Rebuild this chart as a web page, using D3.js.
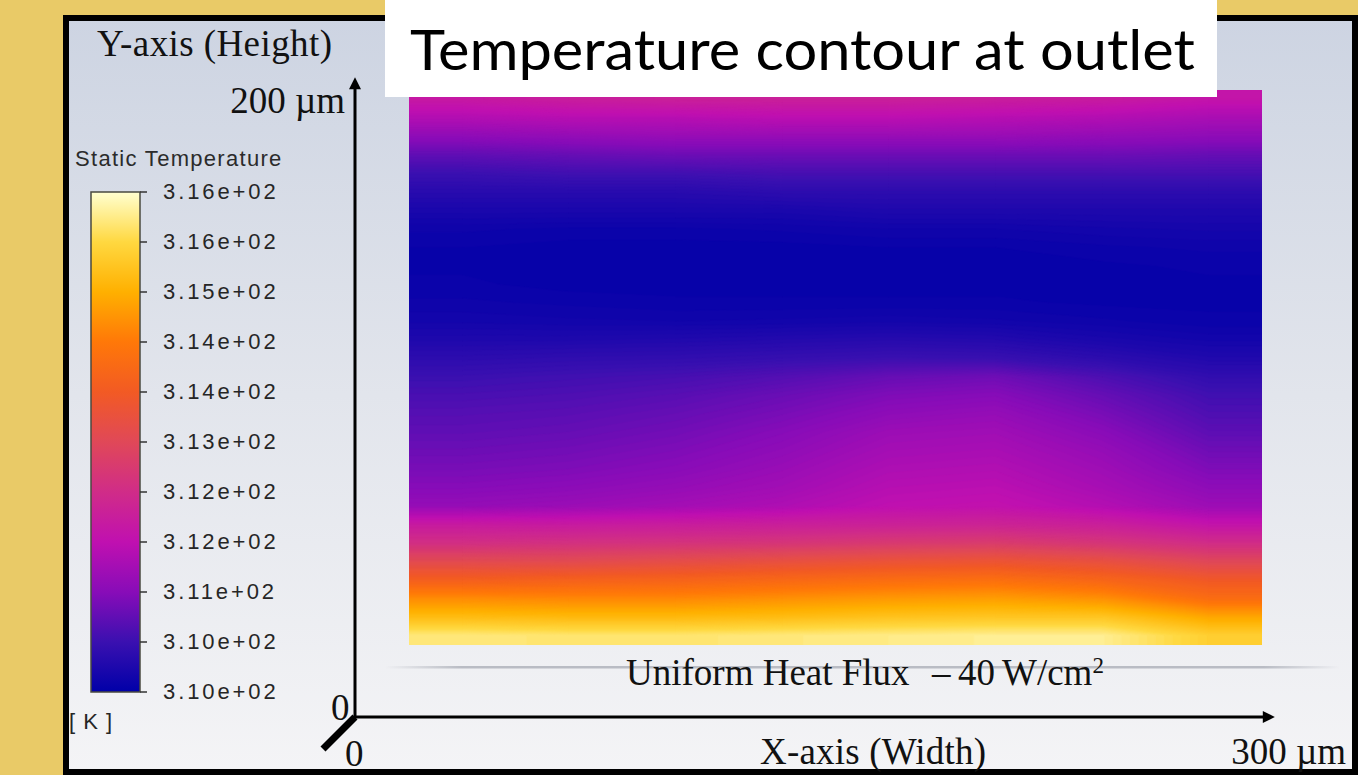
<!DOCTYPE html>
<html>
<head>
<meta charset="utf-8">
<script src="https://cdn.jsdelivr.net/npm/d3@7"></script>
<style>
  html, body { margin: 0; padding: 0; background: #e9ca67; }
  svg { display: block; }
</style>
</head>
<body>
<div id="chart-area"></div>
<script>
var width = 1358, height = 775;

// legend: values (K) bottom to top, their labels and colours
var legendTicks = [309.85, 310.48, 311.11, 311.74, 312.37, 313.00, 313.63, 314.26, 314.89, 315.52, 316.15];
var legendLabels = ["3.10e+02", "3.10e+02", "3.11e+02", "3.12e+02", "3.12e+02", "3.13e+02",
                    "3.14e+02", "3.14e+02", "3.15e+02", "3.16e+02", "3.16e+02"];
var legendColors = ["#0000a8", "#3a10b0", "#880cb8", "#c010b0", "#d02c88", "#e04858",
                    "#f25a24", "#ff7808", "#ffb000", "#ffd840", "#ffffd0"];

// static temperature (K), rows top (200 um) -> bottom (0 um),
// 8 columns across the 300 um width
var tempGrid = [
  [311.95, 312.05, 312.10, 312.10, 312.10, 312.05, 312.00, 311.85],
  [311.60, 311.65, 311.65, 311.70, 311.70, 311.65, 311.60, 311.50],
  [311.20, 311.25, 311.30, 311.30, 311.30, 311.30, 311.25, 311.20],
  [310.80, 310.85, 310.90, 310.90, 310.90, 310.90, 310.90, 310.85],
  [310.50, 310.55, 310.55, 310.60, 310.60, 310.60, 310.60, 310.60],
  [310.30, 310.30, 310.30, 310.35, 310.35, 310.35, 310.35, 310.35],
  [310.15, 310.15, 310.15, 310.15, 310.20, 310.20, 310.20, 310.20],
  [310.02, 310.00, 310.00, 310.02, 310.05, 310.05, 310.08, 310.10],
  [309.97, 309.95, 309.95, 309.95, 309.97, 309.97, 310.00, 310.02],
  [309.96, 309.94, 309.94, 309.94, 309.95, 309.95, 309.96, 309.98],
  [309.98, 309.95, 309.95, 309.95, 309.95, 309.95, 309.95, 309.96],
  [310.02, 310.00, 309.98, 309.98, 309.98, 309.98, 309.96, 309.96],
  [310.08, 310.06, 310.05, 310.06, 310.08, 310.06, 310.02, 309.98],
  [310.20, 310.20, 310.22, 310.25, 310.28, 310.25, 310.15, 310.08],
  [310.35, 310.38, 310.40, 310.45, 310.50, 310.48, 310.35, 310.22],
  [310.50, 310.55, 310.60, 310.70, 310.85, 310.92, 310.65, 310.40],
  [310.62, 310.66, 310.74, 310.88, 311.05, 311.12, 310.85, 310.55],
  [310.72, 310.76, 310.85, 311.00, 311.20, 311.28, 311.00, 310.66],
  [310.80, 310.85, 310.95, 311.12, 311.35, 311.40, 311.15, 310.78],
  [310.90, 310.95, 311.05, 311.22, 311.45, 311.50, 311.28, 310.92],
  [311.00, 311.05, 311.15, 311.32, 311.55, 311.60, 311.38, 311.05],
  [311.12, 311.18, 311.28, 311.42, 311.65, 311.70, 311.48, 311.20],
  [311.28, 311.34, 311.44, 311.56, 311.75, 311.80, 311.62, 311.36],
  [312.00, 312.00, 312.05, 312.10, 312.15, 312.20, 312.10, 311.85],
  [312.45, 312.50, 312.55, 312.60, 312.70, 312.75, 312.60, 312.40],
  [313.10, 313.10, 313.20, 313.30, 313.40, 313.45, 313.30, 313.00],
  [313.75, 313.80, 313.85, 313.95, 314.05, 314.10, 313.90, 313.60],
  [314.50, 314.45, 314.45, 314.55, 314.65, 314.70, 314.55, 314.05],
  [315.10, 315.05, 315.05, 315.10, 315.20, 315.25, 315.25, 314.80],
  [315.80, 315.75, 315.75, 315.80, 315.85, 315.90, 315.90, 315.40]
];

var titleText = "Temperature contour at outlet";
var serif = "'Liberation Serif', 'Times New Roman', serif";
var sans = "'Liberation Sans', Arial, sans-serif";

var svg = d3.select("#chart-area").append("svg")
    .attr("width", width)
    .attr("height", height);

var defs = svg.append("defs");

// scales
var xField = d3.scaleLinear().domain([0, 300]).range([409, 1262]);
var yField = d3.scaleLinear().domain([0, 200]).range([645, 90]);
var xAxisScale = d3.scaleLinear().domain([0, 300]).range([355, 1264]);
var yAxisScale = d3.scaleLinear().domain([0, 200]).range([717, 88]);
var yLegend = d3.scaleLinear().domain([309.85, 316.15]).range([692, 192]);
var color = d3.scaleLinear().domain(legendTicks).range(legendColors).clamp(true);

// panel
var bg = defs.append("linearGradient").attr("id", "panelGrad")
    .attr("x1", 0).attr("y1", 0).attr("x2", 0).attr("y2", 1);
bg.append("stop").attr("offset", 0).attr("stop-color", "#cdd4e2");
bg.append("stop").attr("offset", 0.5).attr("stop-color", "#e2e5ec");
bg.append("stop").attr("offset", 1).attr("stop-color", "#f4f4f6");

svg.append("rect")
    .attr("x", 66).attr("y", 18)
    .attr("width", 1289).attr("height", 754)
    .attr("fill", "url(#panelGrad)")
    .attr("stroke", "#000")
    .attr("stroke-width", 6);

// floor line under the contour
var floorGrad = defs.append("linearGradient").attr("id", "floorGrad");
floorGrad.append("stop").attr("offset", 0).attr("stop-color", "#b9bcc4").attr("stop-opacity", 0);
floorGrad.append("stop").attr("offset", 0.08).attr("stop-color", "#b9bcc4").attr("stop-opacity", 1);
floorGrad.append("stop").attr("offset", 0.92).attr("stop-color", "#b9bcc4").attr("stop-opacity", 1);
floorGrad.append("stop").attr("offset", 1).attr("stop-color", "#b9bcc4").attr("stop-opacity", 0);
svg.append("rect")
    .attr("x", 385).attr("y", 666)
    .attr("width", 955).attr("height", 2.5)
    .attr("fill", "url(#floorGrad)");

// contour field
defs.append("clipPath").attr("id", "fieldClip")
  .append("rect")
    .attr("x", xField(0)).attr("y", yField(200))
    .attr("width", xField(300) - xField(0))
    .attr("height", yField(0) - yField(200));

var nx = tempGrid[0].length, ny = tempGrid.length;
// repeat the edge samples once so the bands reach the walls cleanly
var padded = [tempGrid[0]].concat(tempGrid, [tempGrid[ny - 1]])
    .map((r) => [r[0]].concat(r, [r[nx - 1]]));

var gx = d3.scaleLinear().domain([1, nx + 1]).range([xField(0), xField(300)]);
var gy = d3.scaleLinear().domain([1, ny + 1]).range([yField(200), yField(0)]);
var proj = d3.geoTransform({
    point: function (x, y) { this.stream.point(gx(x), gy(y)); }
});
var path = d3.geoPath(proj);

var levels = d3.range(309.85, 316.15, 0.04);
var bands = d3.contours()
    .size([nx + 2, ny + 2])
    .thresholds(levels)(padded.flat());

svg.append("g")
    .attr("clip-path", "url(#fieldClip)")
  .selectAll("path")
  .data(bands)
  .join("path")
    .attr("d", path)
    .attr("fill", (d) => color(d.value))
    .attr("stroke", (d) => color(d.value))
    .attr("stroke-width", 0.7);

// legend
var lg = defs.append("linearGradient").attr("id", "legendGrad")
    .attr("gradientUnits", "userSpaceOnUse")
    .attr("x1", 0).attr("y1", yLegend(309.85))
    .attr("x2", 0).attr("y2", yLegend(316.15));
lg.selectAll("stop")
  .data(legendTicks)
  .join("stop")
    .attr("offset", (d) => (d - 309.85) / (316.15 - 309.85))
    .attr("stop-color", (d, i) => legendColors[i]);

svg.append("text")
    .attr("x", 75).attr("y", 166)
    .attr("font-family", sans).attr("font-size", 22)
    .attr("letter-spacing", 1.3)
    .attr("fill", "#2b2b2b")
    .text("Static Temperature");

svg.append("rect")
    .attr("x", 91).attr("y", yLegend(316.15))
    .attr("width", 49).attr("height", yLegend(309.85) - yLegend(316.15))
    .attr("fill", "url(#legendGrad)")
    .attr("stroke", "#4a4a40")
    .attr("stroke-width", 1.5);

var lt = svg.append("g").selectAll("g")
  .data(legendTicks)
  .join("g")
    .attr("transform", (d) => "translate(0," + yLegend(d) + ")");

lt.append("line")
    .attr("x1", 140).attr("x2", 147)
    .attr("stroke", "#333").attr("stroke-width", 1.5);

lt.append("text")
    .attr("x", 163).attr("dy", "0.33em")
    .attr("font-family", sans).attr("font-size", 22)
    .attr("letter-spacing", 2.9)
    .attr("fill", "#262626")
    .text((d, i) => legendLabels[i]);

svg.append("text")
    .attr("x", 69).attr("y", 729)
    .attr("font-family", sans).attr("font-size", 22)
    .attr("letter-spacing", 1)
    .attr("fill", "#262626")
    .attr("xml:space", "preserve")
    .text("[ K ]");

// axes
defs.append("marker")
    .attr("id", "arrow")
    .attr("viewBox", "0 0 10 10")
    .attr("refX", 1).attr("refY", 5)
    .attr("markerUnits", "userSpaceOnUse")
    .attr("markerWidth", 14).attr("markerHeight", 12)
    .attr("orient", "auto")
  .append("path")
    .attr("d", "M0,0L10,5L0,10z")
    .attr("fill", "#000");

svg.append("line")
    .attr("x1", xAxisScale(0)).attr("y1", yAxisScale(0))
    .attr("x2", xAxisScale(300)).attr("y2", yAxisScale(0))
    .attr("stroke", "#000").attr("stroke-width", 3)
    .attr("marker-end", "url(#arrow)");

svg.append("line")
    .attr("x1", xAxisScale(0)).attr("y1", yAxisScale(0) + 1)
    .attr("x2", xAxisScale(0)).attr("y2", yAxisScale(200))
    .attr("stroke", "#000").attr("stroke-width", 3)
    .attr("marker-end", "url(#arrow)");

svg.append("line")
    .attr("x1", xAxisScale(0)).attr("y1", yAxisScale(0))
    .attr("x2", xAxisScale(0) - 32).attr("y2", yAxisScale(0) + 32)
    .attr("stroke", "#000").attr("stroke-width", 7);

var axisText = svg.append("g")
    .attr("font-family", serif)
    .attr("font-size", 37)
    .attr("fill", "#111");

axisText.append("text")
    .attr("x", 97).attr("y", 56)
    .attr("textLength", 235)
    .text("Y-axis (Height)");

axisText.append("text")
    .attr("x", xAxisScale(0) - 10).attr("y", 113)
    .attr("text-anchor", "end")
    .text("200 \u00b5m");

axisText.append("text")
    .attr("x", xAxisScale(0) - 24).attr("y", yAxisScale(0) + 3)
    .text("0");

axisText.append("text")
    .attr("x", xAxisScale(0) - 10).attr("y", 766)
    .text("0");

axisText.append("text")
    .attr("x", 760).attr("y", 764)
    .attr("textLength", 226)
    .text("X-axis (Width)");

axisText.append("text")
    .attr("x", 1346).attr("y", 764)
    .attr("text-anchor", "end")
    .text("300 \u00b5m");

var flux = axisText.append("text")
    .attr("y", 685);
flux.append("tspan").attr("x", 626).text("Uniform Heat Flux");
flux.append("tspan").attr("x", 932).text("\u2013");
flux.append("tspan").attr("x", 958).text("40");
flux.append("tspan").attr("x", 1002).text("W/cm");
flux.append("tspan")
    .attr("font-size", 23)
    .attr("dy", -12)
    .text("2");

// title box
svg.append("rect")
    .attr("x", 385).attr("y", 0)
    .attr("width", 832).attr("height", 97)
    .attr("fill", "#fff");

svg.append("text")
    .attr("x", 410).attr("y", 70)
    .attr("font-family", "Lato, 'Open Sans', sans-serif")
    .attr("font-size", 56)
    .attr("textLength", 785)
    .attr("lengthAdjust", "spacingAndGlyphs")
    .attr("fill", "#000")
    .text(titleText);
</script>
</body>
</html>
